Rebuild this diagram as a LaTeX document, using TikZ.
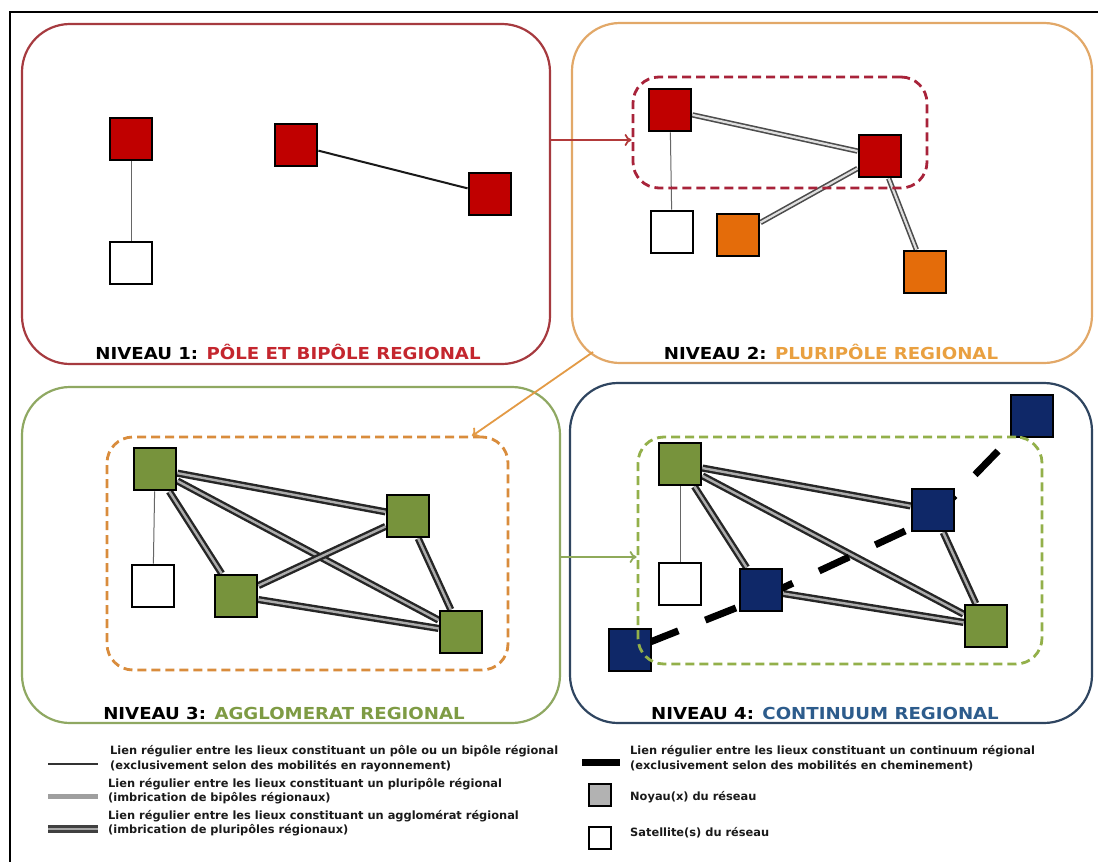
\documentclass[tikz,border=0pt]{standalone}
\usepackage{fontspec}
\setmainfont{DejaVu Sans}
\usetikzlibrary{arrows.meta,backgrounds,calc}
\definecolor{cRedNode}{HTML}{C00000}
\definecolor{cOrangeNode}{HTML}{E46C0A}
\definecolor{cGreenNode}{HTML}{77933C}
\definecolor{cNavyNode}{HTML}{0F2868}
\definecolor{cP1}{HTML}{A63A3F}
\definecolor{cP2}{HTML}{E2A868}
\definecolor{cP3}{HTML}{8FA862}
\definecolor{cP4}{HTML}{2F4560}
\definecolor{cT1}{HTML}{C4262E}
\definecolor{cT2}{HTML}{E9A040}
\definecolor{cT3}{HTML}{7E9B44}
\definecolor{cT4}{HTML}{2D5C8C}
\definecolor{cD2}{HTML}{A8233A}
\definecolor{cD3}{HTML}{D98C3C}
\definecolor{cD4}{HTML}{93B04A}
\definecolor{cArr1}{HTML}{B23A3A}
\definecolor{cArr2}{HTML}{E39A45}
\definecolor{cArr3}{HTML}{8FAA5A}
\definecolor{cLegTxt}{HTML}{1A1A1A}
\begin{document}
\begin{tikzpicture}[x=1pt,y=-1pt,
  panel/.style={rectangle, rounded corners=48pt, line width=2.2pt, inner sep=0pt},
  zone/.style={rectangle, rounded corners=26pt, line width=2.8pt, dash pattern=on 9pt off 5pt, inner sep=0pt},
  sq/.style={rectangle, draw=black, line width=2.9pt, minimum size=42pt, inner sep=0pt},
  redsq/.style={sq, fill=cRedNode},
  orangesq/.style={sq, fill=cOrangeNode},
  greensq/.style={sq, fill=cGreenNode},
  navysq/.style={sq, fill=cNavyNode},
  sat/.style={sq, fill=white},
  thinlink/.style={draw=black!60, line width=1pt},
  bilink/.style={draw=black!90, line width=2pt},
  plurilink/.style={draw=black!70, line width=1.6pt, double=white!75!gray, double distance=2.2pt},
  agglolink/.style={draw=black!85, line width=2.4pt, double=gray!65, double distance=2.4pt},
  contlink/.style={draw=black, line width=7pt, dash pattern=on 33pt off 29pt, dash phase=43pt},
  titletext/.style={font=\fontsize{16.5}{19}\selectfont\bfseries, inner sep=0pt},
  legtext/.style={font=\fontsize{11.4}{14.5}\selectfont\bfseries, text=cLegTxt, align=left, anchor=west, inner sep=0pt},
  arr/.style={line width=1.8pt, -{To[length=7pt,width=12pt]}}
]
\useasboundingbox (0,0) rectangle (1098,862);
\clip (0,0) rectangle (1098,862);
\begin{scope}[on background layer]
\fill[white] (0,0) rectangle (1098,862);
\end{scope}
\draw[line width=2.5pt] (10,12) rectangle (1130,890);

% panels
\node[panel, draw=cP1, minimum width=528pt, minimum height=340pt] (P1) at (286,194) {};
\node[panel, draw=cP2, minimum width=520pt, minimum height=340pt] (P2) at (832,193) {};
\node[panel, draw=cP3, minimum width=538pt, minimum height=336pt] (P3) at (291,555) {};
\node[panel, draw=cP4, minimum width=522pt, minimum height=340pt] (P4) at (831,553) {};

% titles
\node[titletext] (T1) at (288,352) {\scalebox{1.1}[1]{NIVEAU 1: \textcolor{cT1}{PÔLE ET BIPÔLE REGIONAL}}};
\node[titletext] (T2) at (831,352) {\scalebox{1.1}[1]{NIVEAU 2: \textcolor{cT2}{PLURIPÔLE REGIONAL}}};
\node[titletext] (T3) at (284,713) {\scalebox{1.1}[1]{NIVEAU 3: \textcolor{cT3}{AGGLOMERAT REGIONAL}}};
\node[titletext] (T4) at (825,713) {\scalebox{1.1}[1]{NIVEAU 4: \textcolor{cT4}{CONTINUUM REGIONAL}}};

% dashed zones
\node[zone, draw=cD2, minimum width=294pt, minimum height=111pt] (R2) at (780,132.5) {};
\node[zone, draw=cD3, minimum width=401pt, minimum height=233pt] (R3) at (307.5,553.5) {};

% ---------- panel 1
\node[redsq] (A1) at (131,139) {};
\node[sat] (S1) at (131,263) {};
\node[redsq] (B1) at (296,145) {};
\node[redsq] (C1) at (490,194) {};
\begin{scope}[on background layer]
\draw[thinlink] (A1) -- (S1);
\draw[bilink] (B1) -- (C1);
\end{scope}

% ---------- panel 2
\node[redsq] (D2) at (670,110) {};
\node[redsq] (E2) at (880,156) {};
\node[sat] (S2) at (672,232) {};
\node[orangesq] (F2) at (738,235) {};
\node[orangesq] (G2) at (925,272) {};
\begin{scope}[on background layer]
\draw[thinlink] (D2) -- (S2);
\draw[plurilink] (D2) -- (E2);
\draw[plurilink] (E2) -- (F2);
\draw[plurilink] (E2) -- (G2);
\end{scope}

% ---------- panel 3
\node[greensq] (G3a) at (155,469) {};
\node[greensq] (G3b) at (408,516) {};
\node[sat] (S3) at (153,586) {};
\node[greensq] (G3c) at (236,596) {};
\node[greensq] (G3d) at (461,632) {};
\begin{scope}[on background layer]
\draw[thinlink] (G3a) -- (S3);
\draw[agglolink] (G3a) -- (G3b);
\draw[agglolink] (G3a) -- (G3c);
\draw[agglolink] (G3a) -- (G3d);
\draw[agglolink] (G3c) -- (G3b);
\draw[agglolink] (G3c) -- (G3d);
\draw[agglolink] (G3b) -- (G3d);
\end{scope}

% ---------- panel 4
\node[greensq] (G4a) at (680,464) {};
\node[navysq] (N4a) at (933,510) {};
\node[sat] (S4) at (680,584) {};
\node[navysq] (N4b) at (761,590) {};
\node[greensq] (G4b) at (986,626) {};
\node[navysq] (N4c) at (630,650) {};
\node[navysq] (N4d) at (1032,416) {};
\begin{scope}[on background layer]
\draw[thinlink] (G4a) -- (S4);
\draw[agglolink] (G4a) -- (N4a);
\draw[agglolink] (G4a) -- (N4b);
\draw[agglolink] (G4a) -- (G4b);
\draw[agglolink] (N4b) -- (G4b);
\draw[agglolink] (N4a) -- (G4b);
\draw[contlink] (N4c.center) -- ($(N4b.center)+(0,8)$) -- ($(N4a.center)+(0,8)$) -- (N4d.center);
\end{scope}
\node[zone, draw=cD4, minimum width=404pt, minimum height=227pt] (R4) at (840,550.5) {};

% ---------- arrows between levels
\coordinate (a2s) at (593,352);
\coordinate (a2e) at (472,436);
\draw[arr, cArr1] (P1.east |- 0,140) -- (R2.west |- 0,140);
\draw[arr, cArr2] (a2s) -- (a2e);
\draw[arr, cArr3] (P3.east |- 0,557) -- (R4.west |- 0,557);

% ---------- legend
\coordinate (l1a) at (48,764); \coordinate (l1b) at (98,764);
\coordinate (l2a) at (48,796); \coordinate (l2b) at (98,796);
\coordinate (l3a) at (48,829); \coordinate (l3b) at (98,829);
\coordinate (l4a) at (582,762); \coordinate (l4b) at (620,762);
\draw[draw=black!80, line width=2pt] (l1a) -- (l1b);
\draw[draw=gray!75, line width=5pt] (l2a) -- (l2b);
\draw[draw=black!75, line width=2.5pt, double=gray!70, double distance=2.5pt] (l3a) -- (l3b);
\draw[draw=black, line width=7pt] (l4a) -- (l4b);
\node[legtext] (L1) at (110,758.5) {Lien régulier entre les lieux constituant un pôle ou un bipôle régional\\(exclusivement selon des mobilités en rayonnement)};
\node[legtext] (L2) at (108,791) {Lien régulier entre les lieux constituant un pluripôle régional\\(imbrication de bipôles régionaux)};
\node[legtext] (L3) at (108,823) {Lien régulier entre les lieux constituant un agglomérat régional\\(imbrication de pluripôles régionaux)};
\node[legtext] (L4) at (630,758) {Lien régulier entre les lieux constituant un continuum régional\\(exclusivement selon des mobilités en cheminement)};
\node[sq, fill=gray!60, minimum size=22pt] (LN) at (600,795) {};
\node[legtext] (L5) at (630,797) {Noyau(x) du réseau};
\node[sat, minimum size=22pt] (LS) at (600,838) {};
\node[legtext] (L6) at (630,833) {Satellite(s) du réseau};
\end{tikzpicture}
\end{document}
